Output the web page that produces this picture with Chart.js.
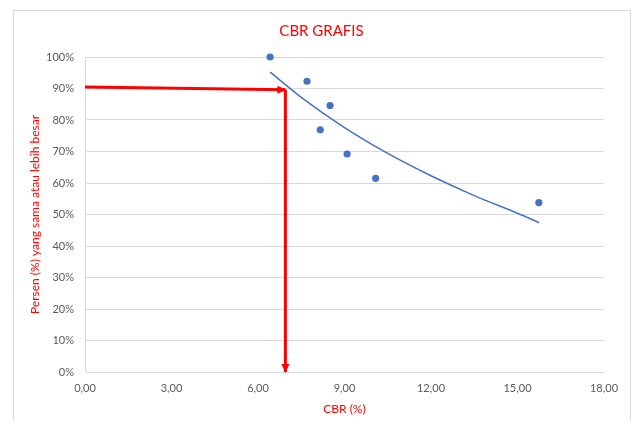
<!DOCTYPE html>
<html>
<head>
<meta charset="utf-8">
<script src="https://cdn.jsdelivr.net/npm/chart.js@4/dist/chart.umd.min.js"></script>
<style>
  html, body { margin: 0; padding: 0; background: #ffffff; }
  canvas { display: block; }
</style>
</head>
<body>
<canvas id="c" width="632" height="421"></canvas>
<script>
// ---- data ----
const cbrValues     = [6.42, 7.70, 8.16, 8.50, 9.09, 10.08, 15.74];
const percentValues = [100, 92.3, 76.9, 84.6, 69.2, 61.5, 53.8];

const trendX = [6.42, 7.5, 9.0, 10.5, 12.0, 13.5, 15.0, 15.75];
const trendY = [95.2, 87.2, 77.6, 69.4, 62.3, 56.0, 50.4, 47.4];

const hArrowX = [0, 6.95];
const hArrowY = [90.5, 89.6];
const vArrowX = [6.95, 6.95];
const vArrowY = [89.6, 0];

const xTickLabels = ['0,00', '3,00', '6,00', '9,00', '12,00', '15,00', '18,00'];
const yTickLabels = ['0%', '10%', '20%', '30%', '40%', '50%', '60%', '70%', '80%', '90%', '100%'];

const titleText  = 'CBR GRAFIS';
const xTitleText = 'CBR (%)';
const yTitleText = 'Persen (%) yang sama atau lebih besar';

const toXY = (xs, ys) => xs.map((x, i) => ({ x: x, y: ys[i] }));

const FONT = 'Lato, "Open Sans", sans-serif';
const RED = '#ff0000';
const BLUE = '#4472c4';

const frame = {
  id: 'frame',
  beforeDraw(chart) {
    const ctx = chart.ctx;
    ctx.save();
    ctx.fillStyle = '#ffffff';
    ctx.fillRect(0, 0, chart.width, chart.height);
    ctx.strokeStyle = '#d9d9d9';
    ctx.lineWidth = 1;
    ctx.strokeRect(13.5, 10.5, 617, 430);
    ctx.restore();
  }
};

const arrowHeads = {
  id: 'arrowHeads',
  afterDatasetsDraw(chart) {
    const ctx = chart.ctx;
    chart.data.datasets.forEach((ds, i) => {
      if (!ds.arrow) return;
      const pts = chart.getDatasetMeta(i).data;
      const a = pts[pts.length - 2], b = pts[pts.length - 1];
      const ang = Math.atan2(b.y - a.y, b.x - a.x);
      const len = 8, half = 4;
      ctx.save();
      ctx.fillStyle = RED;
      ctx.translate(b.x, b.y);
      ctx.rotate(ang);
      ctx.beginPath();
      ctx.moveTo(1, 0);
      ctx.lineTo(-len, -half);
      ctx.lineTo(-len, half);
      ctx.closePath();
      ctx.fill();
      ctx.restore();
    });
  }
};

new Chart(document.getElementById('c'), {
  type: 'scatter',
  data: {
    datasets: [
      {
        label: 'Data',
        data: toXY(cbrValues, percentValues),
        backgroundColor: BLUE,
        borderColor: BLUE,
        pointRadius: 3.6,
        pointBorderWidth: 0,
        showLine: false,
        clip: false,
        order: 2
      },
      {
        label: 'Trend',
        data: toXY(trendX, trendY),
        showLine: true,
        borderColor: BLUE,
        borderWidth: 1.5,
        pointRadius: 0,
        cubicInterpolationMode: 'monotone',
        fill: false,
        order: 1
      },
      {
        label: 'hArrow',
        data: toXY(hArrowX, hArrowY),
        showLine: true,
        borderColor: RED,
        borderWidth: 3,
        pointRadius: 0,
        arrow: true,
        clip: false,
        order: 0
      },
      {
        label: 'vArrow',
        data: toXY(vArrowX, vArrowY),
        showLine: true,
        borderColor: RED,
        borderWidth: 3,
        pointRadius: 0,
        arrow: true,
        clip: false,
        order: 0
      }
    ]
  },
  options: {
    responsive: false,
    animation: false,
    devicePixelRatio: 1,
    layout: { padding: { left: 13, right: 2, top: 10, bottom: 0 } },
    plugins: {
      legend: { display: false },
      tooltip: { enabled: false },
      title: {
        display: true,
        text: titleText,
        color: RED,
        font: { family: FONT, size: 15, weight: 'normal' },
        padding: { top: 12, bottom: 17 }
      }
    },
    scales: {
      x: {
        type: 'linear',
        min: 0,
        max: 18,
        ticks: {
          stepSize: 3,
          color: '#595959',
          font: { family: FONT, size: 11 },
          padding: 10,
          maxRotation: 0,
          callback: (v, i) => xTickLabels[i]
        },
        grid: { display: false, drawTicks: false },
        border: { display: true, color: '#d9d9d9', width: 1 },
        title: {
          display: true,
          text: xTitleText,
          color: RED,
          font: { family: FONT, size: 12 },
          padding: { top: 4, bottom: 5 }
        },
        afterFit: s => { s.height = 49; }
      },
      y: {
        type: 'linear',
        min: 0,
        max: 100,
        ticks: {
          stepSize: 10,
          color: '#595959',
          font: { family: FONT, size: 11 },
          padding: 11,
          callback: (v, i) => yTickLabels[i]
        },
        grid: { color: '#d9d9d9', drawTicks: false },
        border: { display: true, color: '#d9d9d9', width: 1 },
        title: {
          display: true,
          text: yTitleText,
          color: RED,
          font: { family: FONT, size: 12 },
          padding: { top: 15, bottom: 0 }
        },
        afterFit: s => { s.width = 72; }
      },
      yRight: {
        type: 'linear',
        position: 'right',
        display: true,
        min: 0,
        max: 100,
        ticks: { display: false },
        grid: { display: false, drawTicks: false },
        border: { display: false },
        afterFit: s => { s.width = 26; }
      }
    }
  },
  plugins: [frame, arrowHeads]
});
</script>
</body>
</html>
